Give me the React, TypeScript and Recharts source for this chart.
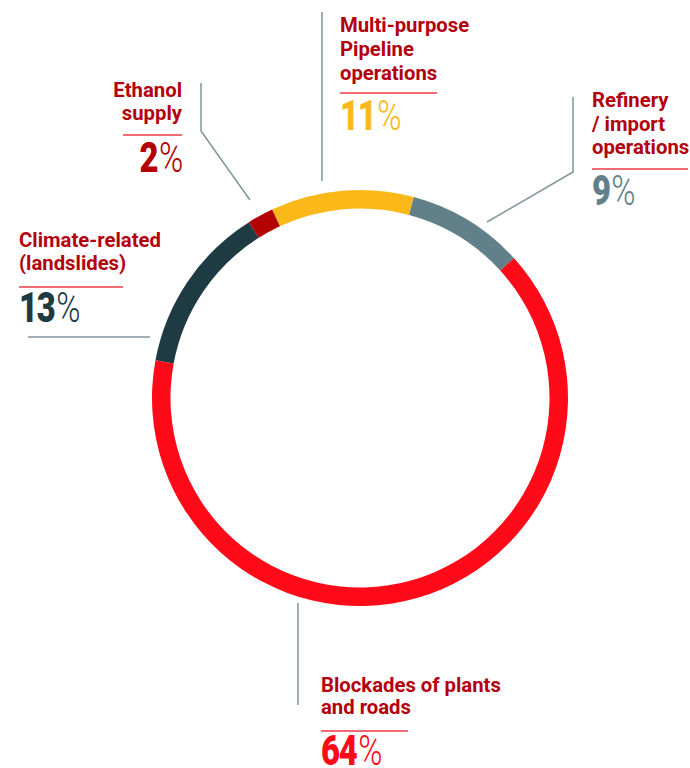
import React from "react";
import { Cell, Pie, PieChart } from "recharts";

const categories = [
  "Multi-purpose Pipeline operations",
  "Refinery / import operations",
  "Blockades of plants and roads",
  "Climate-related (landslides)",
  "Ethanol supply",
];
const shares = [11, 9, 64, 13, 2];
const colors = ["#fbb919", "#62808a", "#ff0a19", "#1e3b43", "#b30000"];

const data = categories.map((name, i) => ({ name, value: shares[i], color: colors[i] }));

const W = 690;
const H = 768;
const cx = 360;
const cy = 398;
const outerR = 208;
const innerR = 189.5;

const titleColor = "#b3000c";
const ruleColor = "#ee3a44";
const leaderColor = "#7f969b";
const font = "Roboto, 'Noto Sans', sans-serif";

type LabelProps = {
  x: number;
  anchor: "start" | "end";
  lines: string[];
  firstBase: number;
  lineGap: number;
  ruleY: number;
  ruleW: number;
  numBase: number;
  value: number;
  color: string;
};

const Label = ({ x, anchor, lines, firstBase, lineGap, ruleY, ruleW, numBase, value, color }: LabelProps) => {
  const rx1 = anchor === "start" ? x : x - ruleW;
  return (
    <g>
      {lines.map((l, i) => (
        <text
          key={i}
          x={x}
          y={firstBase + i * lineGap}
          textAnchor={anchor}
          fill={titleColor}
          fontFamily={font}
          fontWeight={700}
          fontSize={20.3}
        >
          {l}
        </text>
      ))}
      <line x1={rx1} x2={rx1 + ruleW} y1={ruleY} y2={ruleY} stroke={ruleColor} strokeWidth={1.5} />
      <text
        transform={`translate(${x},${numBase}) scale(0.78,1)`}
        x={0}
        y={0}
        textAnchor={anchor}
        fill={color}
        fontFamily={font}
        fontSize={42}
        letterSpacing={-1.5}
      >
        <tspan fontWeight={900}>{value}</tspan>
        <tspan fontWeight={300} dx={2}>%</tspan>
      </text>
    </g>
  );
};

export default function App() {
  return (
    <div style={{ position: "absolute", left: 0, top: 0, width: W, height: H, background: "#fff" }}>
      <PieChart width={W} height={H} margin={{ top: 0, right: 0, bottom: 0, left: 0 }}>
        <Pie
          data={data}
          dataKey="value"
          nameKey="name"
          cx={cx}
          cy={cy}
          innerRadius={innerR}
          outerRadius={outerR}
          startAngle={115}
          endAngle={-245}
          stroke="none"
          isAnimationActive={false}
        >
          {data.map((entry, index) => (
            <Cell key={`cell-${index}`} fill={entry.color} />
          ))}
        </Pie>
      </PieChart>
      <svg width={W} height={H} style={{ position: "absolute", left: 0, top: 0, pointerEvents: "none" }}>
        {/* leader lines */}
        <polyline points="201,83 201,131 250,200" fill="none" stroke={leaderColor} strokeWidth={1.5} />
        <polyline points="322,12 322,181" fill="none" stroke={leaderColor} strokeWidth={1.5} />
        <polyline points="573,97 573,172 487,222" fill="none" stroke={leaderColor} strokeWidth={1.5} />
        <polyline points="28,337 150,337" fill="none" stroke={leaderColor} strokeWidth={1.5} />
        <polyline points="298,603 298,705" fill="none" stroke={leaderColor} strokeWidth={1.5} />

        <Label x={182} anchor="end" lines={["Ethanol", "supply"]} firstBase={97} lineGap={23}
          ruleY={135} ruleW={59} numBase={172} value={shares[4]} color={colors[4]} />
        <Label x={340} anchor="start" lines={["Multi-purpose", "Pipeline", "operations"]} firstBase={32} lineGap={24}
          ruleY={93} ruleW={97} numBase={130} value={shares[0]} color={colors[0]} />
        <Label x={592} anchor="start" lines={["Refinery", "/ import", "operations"]} firstBase={107} lineGap={23.5}
          ruleY={169} ruleW={96} numBase={205} value={shares[1]} color={colors[1]} />
        <Label x={19} anchor="start" lines={["Climate-related", "(landslides)"]} firstBase={247} lineGap={23}
          ruleY={287} ruleW={104} numBase={322} value={shares[3]} color={colors[3]} />
        <Label x={321} anchor="start" lines={["Blockades of plants", "and roads"]} firstBase={692} lineGap={22}
          ruleY={731} ruleW={87} numBase={765} value={shares[2]} color={colors[2]} />
      </svg>
    </div>
  );
}
